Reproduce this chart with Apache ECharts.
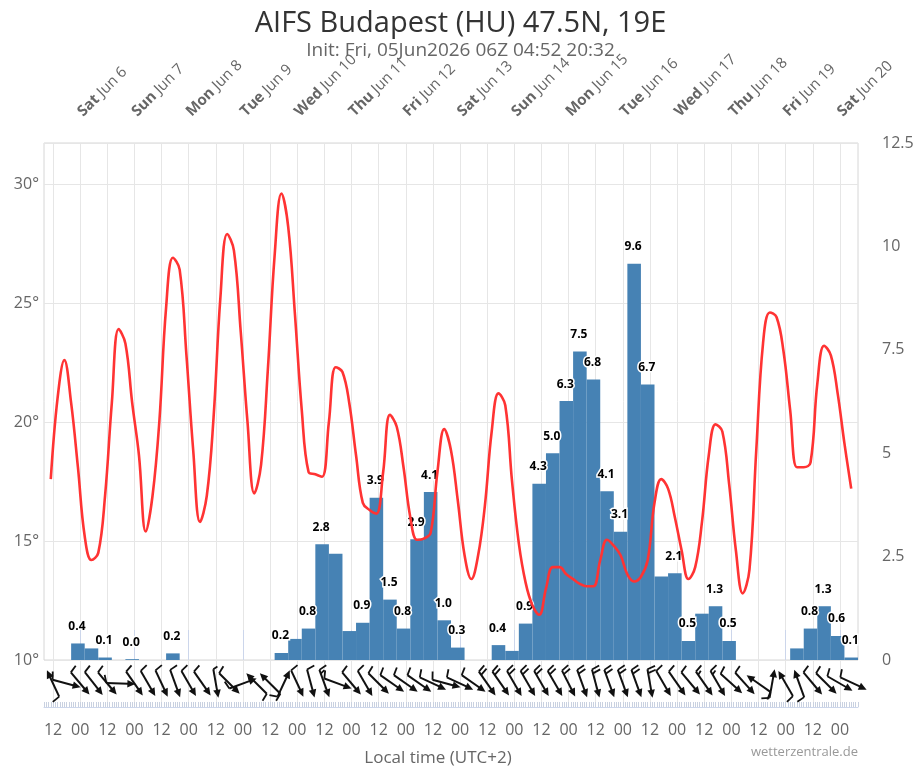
<!DOCTYPE html>
<html><head><meta charset="utf-8">
<script src="https://cdn.jsdelivr.net/npm/echarts@6/dist/echarts.min.js"></script>
<style>html,body{margin:0;padding:0;background:#fff}#c{width:921px;height:768px}</style>
</head><body><div id="c"></div>
<script>
const FONT = "'Open Sans', sans-serif";

// x values are hours since Fri Jun 5 08:00 local (init 06Z)
// Temperature (°C), 3-hourly from hour 3 to hour 357
const temperature = [
  17.6, 21.0, 22.6, 20.8, 18.1, 15.2, 14.2, 14.5,
  16.9, 20.8, 23.9, 23.3, 20.8, 18.6, 15.4, 16.9,
  20.0, 24.8, 26.9, 26.4, 22.8, 18.8, 15.8, 16.9,
  20.2, 25.2, 27.9, 27.2, 23.8, 20.0, 17.0, 18.2,
  22.2, 27.0, 29.6, 28.2, 24.5, 20.5, 17.9, 17.8,
  17.7, 20.0, 22.3, 22.1, 20.8, 18.6, 16.6, 16.3,
  16.15, 17.9, 20.3, 19.8, 18.1, 16.0, 15.05, 15.1,
  15.35, 17.9, 19.7, 18.8, 16.7, 14.4, 13.4, 14.4,
  16.5, 19.6, 21.2, 20.7, 17.5, 14.9, 13.25, 12.3,
  11.9, 13.0, 13.9, 13.9, 13.6, 13.4, 13.2, 13.1,
  13.1, 14.2, 15.05, 14.8, 14.4, 13.6, 13.3, 13.5,
  14.2, 16.6, 17.6, 17.2, 16.0, 14.6, 13.4, 13.9,
  15.8, 18.6, 19.9, 19.6, 17.4, 14.6, 12.8, 13.8,
  18.8, 23.3, 24.6, 24.4, 23.0, 20.5, 18.1, 18.1,
  18.3, 21.6, 23.2, 22.8, 21.2, 19.1, 17.2
];
const tempHours = temperature.map((_, i) => 3 + 3 * i);

// 6-hourly precipitation (mm); bar i covers hours [6i, 6i+6]
const precipitation = [
  0, 0, 0.40, 0.28, 0.06, 0, 0.02, 0, 0, 0.16,
  0, 0, 0, 0, 0, 0, 0, 0.17, 0.51, 0.76,
  2.80, 2.57, 0.70, 0.90, 3.92, 1.46, 0.76, 2.92, 4.06, 0.96,
  0.30, 0, 0, 0.36, 0.22, 0.88, 4.26, 5.00, 6.26, 7.46,
  6.78, 4.08, 3.10, 9.58, 6.66, 2.02, 2.10, 0.46, 1.12, 1.30,
  0.46, 0, 0, 0, 0, 0.28, 0.76, 1.30, 0.58, 0.06
];
const precipLabelled = [2,4,6,9,17,19,20,23,24,25,26,27,28,29,30,33,35,36,37,38,39,40,41,42,43,44,46,47,49,50,56,57,58,59];

// wind: direction the wind comes from (deg) and number of feathers, 6-hourly
const windDir = [
  155, 285, 320, 322, 320, 272, 325, 330, 335, 340,
  330, 325, 350, 315, 250, 135, 135, 205, 335, 345,
  340, 290, 320, 330, 315, 305, 305, 305, 295, 285,
  295, 305, 325, 325, 330, 330, 330, 330, 333, 340,
  345, 340, 340, 340, 350, 330, 325, 320, 325, 330,
  312, 318, 125, 190, 150, 160, 320, 315, 300, 295
];
const windBarbs = [
  1, 1, 1, 1, 1, 1, 1, 1, 1, 1,
  1, 1, 0.5, 1, 1, 1, 1, 1, 1, 1,
  1.5, 1, 1, 1, 1, 1, 1, 1, 1, 1,
  1, 1, 2, 2, 2, 2, 2, 2, 2, 2,
  2, 2, 2, 2, 2, 1, 1, 1, 1.5, 1.5,
  1, 1, 1, 1, 1, 1, 1, 1, 1, 1
];

// axis ticks and labels
const dayTickHours = [16, 40, 64, 88, 112, 136, 160, 184, 208, 232, 256, 280, 304, 328, 352];
const dayNames = ['Sat','Sun','Mon','Tue','Wed','Thu','Fri','Sat','Sun','Mon','Tue','Wed','Thu','Fri','Sat'];
const dayDates = ['Jun 6','Jun 7','Jun 8','Jun 9','Jun 10','Jun 11','Jun 12','Jun 13','Jun 14','Jun 15','Jun 16','Jun 17','Jun 18','Jun 19','Jun 20'];
const hourTickHours = [];
const hourLabels = [];
for (let h = 4; h <= 360; h += 12) { hourTickHours.push(h); hourLabels.push(((h + 8) % 24) === 12 ? '12' : '00'); }
const hourlyTicks = [];
for (let h = 0; h <= 360; h++) hourlyTicks.push(h);
const tempTicks = [10, 15, 20, 25, 30];
const precipTicks = [0, 2.5, 5, 7.5, 10, 12.5];

const chart = echarts.init(document.getElementById('c'));
const gridLine = '#e6e6e6';
const labelColor = '#666';

chart.setOption({
  animation: false,
  backgroundColor: '#fff',
  title: [
    { text: 'AIFS Budapest (HU) 47.5N, 19E', left: 'center', top: 4,
      textStyle: { fontFamily: FONT, fontSize: 29, fontWeight: 'normal', color: '#333' } },
    { text: 'Init: Fri, 05Jun2026 06Z 04:52 20:32', left: 'center', top: 36,
      textStyle: { fontFamily: FONT, fontSize: 19, fontWeight: 'normal', color: '#666' } }
  ],
  graphic: [
    { type: 'text', right: 63, top: 746,
      style: { text: 'wetterzentrale.de', fill: '#999', font: '13px ' + FONT } }
  ],
  grid: [
    { left: 44, right: 63, top: 143, height: 517, show: true, borderColor: '#d6d6d6', borderWidth: 1 },
    { left: 44, right: 63, top: 660, height: 48 }
  ],
  xAxis: [
    { gridIndex: 0, type: 'value', position: 'top', min: 0, max: 360,
      axisLine: { show: false },
      axisTick: { show: true, customValues: dayTickHours, length: 30, lineStyle: { color: '#ccd6eb' } },
      axisLabel: { customValues: dayTickHours, rotate: 45, margin: 29, color: labelColor,
        fontFamily: FONT, fontSize: 15,
        formatter: v => { const i = dayTickHours.indexOf(v); return '{b|' + dayNames[i] + '} ' + dayDates[i]; },
        rich: { b: { fontWeight: 'bold', fontFamily: FONT, fontSize: 15, color: labelColor } } },
      splitLine: { show: false } },
    { gridIndex: 0, type: 'value', position: 'bottom', min: 0, max: 360,
      axisLine: { show: false }, axisTick: { show: false, customValues: hourTickHours },
      axisLabel: { show: false }, splitLine: { show: true, lineStyle: { color: gridLine } } },
    { gridIndex: 1, type: 'value', position: 'bottom', min: 0, max: 360,
      axisLine: { show: true, lineStyle: { color: '#ccd6eb' } },
      axisTick: { show: true, customValues: hourlyTicks, inside: true, length: 5, lineStyle: { color: '#c9d1e0' } },
      axisLabel: { customValues: hourTickHours, margin: 15, color: labelColor, fontFamily: FONT, fontSize: 16,
        formatter: v => hourLabels[hourTickHours.indexOf(v)] },
      splitLine: { show: false },
      name: 'Local time (UTC+2)', nameLocation: 'middle', nameGap: 43,
      nameTextStyle: { color: labelColor, fontFamily: FONT, fontSize: 17, padding: [0, 26, 0, 0] } },
    { gridIndex: 1, type: 'value', position: 'bottom', min: 0, max: 360,
      axisLine: { show: false }, axisTick: { show: false, customValues: hourTickHours },
      axisLabel: { show: false }, splitLine: { show: true, lineStyle: { color: gridLine } } }
  ],
  yAxis: [
    { gridIndex: 0, type: 'value', min: 10, max: 31.72, interval: 5,
      axisLine: { show: false }, axisTick: { show: false },
      axisLabel: { color: labelColor, fontFamily: FONT, fontSize: 16, margin: 5, showMaxLabel: false,
        formatter: v => tempTicks.indexOf(v) >= 0 ? v + '°' : '' },
      splitLine: { show: true, lineStyle: { color: gridLine } } },
    { gridIndex: 0, type: 'value', position: 'right', min: 0, max: 12.5, interval: 2.5,
      axisLine: { show: false }, axisTick: { show: false },
      axisLabel: { color: labelColor, fontFamily: FONT, fontSize: 16, margin: 24,
        formatter: v => precipTicks.indexOf(v) >= 0 ? String(v) : '' },
      splitLine: { show: false } },
    { gridIndex: 1, type: 'value', min: 0, max: 1, show: false }
  ],
  series: [
    { type: 'custom', name: 'Precipitation', xAxisIndex: 1, yAxisIndex: 1, z: 2,
      data: precipitation.map((v, i) => [6 * i, 6 * i + 6, v, precipLabelled.indexOf(i) >= 0 ? 1 : 0]),
      renderItem: (params, api) => {
        const v = api.value(2);
        const p0 = api.coord([api.value(0), v]);
        const p1 = api.coord([api.value(1), 0]);
        const children = [];
        if (v > 0) {
          children.push({ type: 'rect', shape: { x: p0[0], y: p0[1], width: p1[0] - p0[0], height: p1[1] - p0[1] },
            style: { fill: '#4682b4' } });
        }
        if (api.value(3)) {
          const tx = (p0[0] + p1[0]) / 2 - 1, ty = p0[1] - 17;
          const txt = v.toFixed(1);
          children.push({ type: 'text', x: tx, y: ty, z2: 10,
            style: { text: txt, fill: '#fff', stroke: '#fff', lineWidth: 3, font: 'bold 12px ' + FONT, align: 'center', verticalAlign: 'middle' } });
          children.push({ type: 'text', x: tx, y: ty, z2: 11,
            style: { text: txt, fill: '#000', font: 'bold 12px ' + FONT, align: 'center', verticalAlign: 'middle' } });
        }
        return { type: 'group', children };
      } },
    { type: 'line', name: 'Temperature', xAxisIndex: 1, yAxisIndex: 0, z: 5,
      data: tempHours.map((t, i) => [t, temperature[i]]),
      smooth: 0.4, symbol: 'none',
      lineStyle: { color: '#ff3333', width: 2.6 } },
    { type: 'custom', name: 'Wind', xAxisIndex: 2, yAxisIndex: 2, z: 4, clip: false,
      data: windDir.map((d, k) => [6 * k + 4, d, windBarbs[k]]),
      renderItem: (params, api) => {
        const c = api.coord([api.value(0), 0.5]);
        const dir = api.value(1) * Math.PI / 180;
        const ux = -Math.sin(dir), uy = Math.cos(dir);
        const L = 29, hl = 8, hw = 3.8;
        const tail = [c[0] - ux * L / 2, c[1] - uy * L / 2];
        const head = [c[0] + ux * L / 2, c[1] + uy * L / 2];
        const base = [head[0] - ux * hl, head[1] - uy * hl];
        const col = '#111';
        const children = [
          { type: 'line', shape: { x1: tail[0], y1: tail[1], x2: base[0] + ux, y2: base[1] + uy },
            style: { stroke: col, lineWidth: 2 } },
          { type: 'polygon', shape: { points: [head, [base[0] - uy * hw, base[1] + ux * hw], [base[0] + uy * hw, base[1] - ux * hw]] },
            style: { fill: col } }
        ];
        let n = api.value(2);
        let j = 0;
        const bx = uy, by = -ux;
        while (n > 0) {
          const len = n >= 1 ? 8 : 4.5;
          const sx = tail[0] + ux * j * 4, sy = tail[1] + uy * j * 4;
          children.push({ type: 'line', shape: { x1: sx, y1: sy, x2: sx + bx * len - ux * 2, y2: sy + by * len - uy * 2 },
            style: { stroke: col, lineWidth: 1.8 } });
          n -= 1; j++;
        }
        return { type: 'group', children };
      } }
  ]
});
</script>
</body></html>
